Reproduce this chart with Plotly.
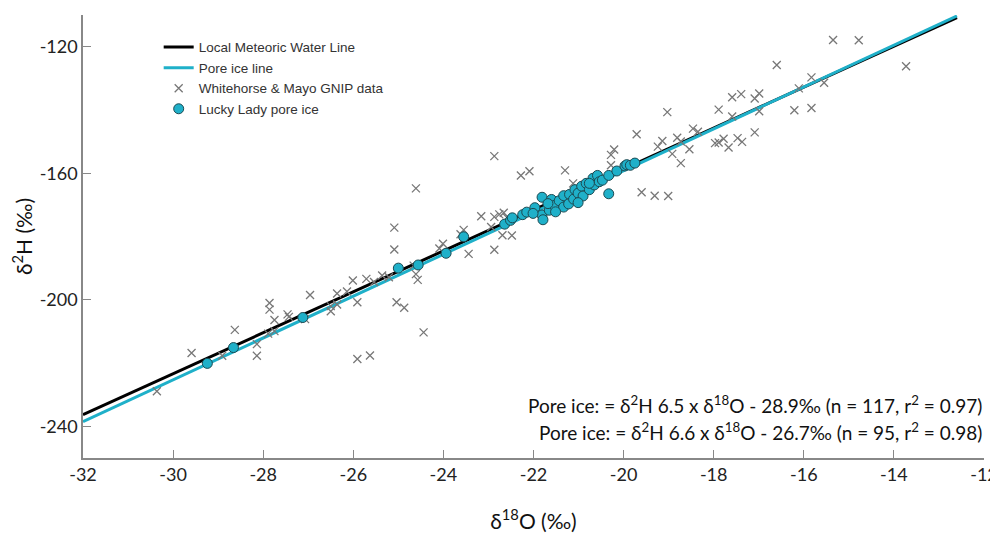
import plotly.graph_objects as go

# Regression lines (end points)
lmwl_x = [-32.0, -12.6]
lmwl_y = [-236.3, -110.8]
pore_x = [-32.0, -12.6]
pore_y = [-238.5, -110.3]

# Whitehorse & Mayo GNIP data (d18O, d2H)
gnip_x = [-30.36, -29.59, -28.63, -28.91, -28.14, -28.14, -27.86, -27.86, -27.75, -27.89,
          -27.75, -27.46, -27.43, -26.96, -27.07, -26.50, -26.50, -26.36, -26.36, -26.14,
          -26.01, -25.91, -25.91, -25.63, -25.71, -25.54, -25.36, -25.21, -25.04,
          -25.09, -25.09, -24.87, -24.44, -24.57, -24.61, -24.66, -24.61, -24.01, -24.09,
          -23.55, -23.62, -23.44, -23.16, -22.87, -22.76, -22.66, -22.59, -22.94, -22.69,
          -22.48, -22.87, -22.87, -22.28, -22.09, -21.30, -21.12,
          -15.35, -14.78, -13.73, -16.60, -15.83, -16.11, -15.55, -16.21, -15.83, -17.59,
          -17.39, -17.09, -16.99, -16.99, -17.89, -17.59, -19.03, -19.71, -18.46, -18.35,
          -19.14, -19.24, -18.81, -18.73, -18.92, -18.73, -18.54, -17.97, -17.78, -17.67,
          -17.47, -17.37, -17.09, -17.89, -20.28, -20.21, -20.28, -19.60, -19.31, -19.01]
gnip_y = [-228.9, -216.8, -209.5, -217.7, -217.7, -214.0, -201.0, -203.1, -206.4, -210.7,
          -209.9, -204.6, -205.4, -198.5, -206.1, -202.0, -203.6, -201.5, -198.0, -197.4,
          -193.9, -200.8, -218.7, -217.6, -193.4, -194.4, -192.3, -192.9, -200.8,
          -177.2, -184.1, -202.5, -210.3, -193.7, -191.9, -189.2, -164.8, -182.3, -183.8,
          -177.9, -179.3, -185.5, -173.6, -173.8, -173.0, -172.5, -174.0, -177.0, -179.6,
          -179.7, -184.2, -154.6, -160.7, -159.4, -159.1, -163.2,
          -117.9, -118.0, -126.2, -125.8, -129.7, -133.2, -131.4, -140.1, -139.4, -136.0,
          -135.0, -136.4, -134.8, -140.4, -139.9, -142.1, -140.7, -147.7, -145.9, -146.9,
          -149.8, -151.6, -148.8, -150.0, -153.9, -156.8, -152.4, -150.5, -149.1, -151.9,
          -148.9, -150.1, -147.1, -150.3, -154.2, -152.5, -157.5, -166.0, -167.1, -167.2]

# Lucky Lady pore ice (d18O, d2H)
ice_x = [-29.24, -28.66, -27.12, -25.00, -24.56, -23.94, -23.55, -22.64, -22.51, -22.24,
         -22.47, -22.15, -21.97, -21.81, -21.81, -21.79, -21.65, -21.60, -21.54, -21.43,
         -21.33, -21.33, -21.20, -21.22, -21.11, -21.08, -21.01, -20.93, -20.90, -20.83,
         -20.76, -20.68, -20.65, -20.58, -20.54, -20.47, -20.33, -20.15, -19.97, -19.93,
         -20.33, -21.51, -21.68, -22.01, -21.01, -20.76, -19.85, -19.75]
ice_y = [-220.1, -215.1, -205.6, -190.0, -189.0, -185.3, -180.1, -176.1, -174.9, -173.1,
         -174.1, -172.3, -170.9, -167.6, -173.2, -174.7, -171.7, -168.3, -170.2, -168.7,
         -170.7, -167.1, -166.7, -169.7, -168.2, -165.2, -166.3, -164.1, -167.2, -163.2,
         -165.2, -161.6, -163.7, -160.7, -162.7, -162.2, -160.7, -159.3, -157.7, -157.3,
         -166.5, -172.2, -169.6, -172.7, -169.3, -163.2, -157.5, -156.8]

x_ticks = [-32, -30, -28, -26, -24, -22, -20, -18, -16, -14, -12]
y_ticks = [-240, -200, -160, -120]

eq_lines = [
    "Pore ice: = δ<sup>2</sup>H 6.5 x δ<sup>18</sup>O - 28.9‰ (n = 117, r<sup>2</sup> = 0.97)",
    "Pore ice: = δ<sup>2</sup>H 6.6 x δ<sup>18</sup>O - 26.7‰ (n = 95, r<sup>2</sup> = 0.98)",
]

CYAN = "#1fb0c9"
FONT = "Lato, Open Sans, sans-serif"
tick_font = dict(family=FONT, size=18, color="#222")

fig = go.Figure()
fig.add_trace(go.Scatter(x=lmwl_x, y=lmwl_y, mode="lines", name="Local Meteoric Water Line",
                         line=dict(color="black", width=3)))
fig.add_trace(go.Scatter(x=pore_x, y=pore_y, mode="lines", name="Pore ice line",
                         line=dict(color=CYAN, width=3)))
fig.add_trace(go.Scatter(x=gnip_x, y=gnip_y, mode="markers", name="Whitehorse & Mayo GNIP data",
                         marker=dict(symbol="x-thin", size=8, color="#777",
                                     line=dict(width=1.3, color="#777"))))
fig.add_trace(go.Scatter(x=ice_x, y=ice_y, mode="markers", name="Lucky Lady pore ice",
                         marker=dict(symbol="circle", size=10, color=CYAN,
                                     line=dict(width=1, color="#1c4a52"))))

for i, t in enumerate(eq_lines):
    fig.add_annotation(text=t, xref="paper", yref="paper", x=1.0, y=[0.12, 0.059][i],
                       xanchor="right", yanchor="middle", showarrow=False,
                       font=dict(family=FONT, size=19, color="#111"))

fig.update_xaxes(range=[-32, -12], tickvals=x_ticks, ticktext=[str(v) for v in x_ticks],
                 ticks="inside", ticklen=8, tickcolor="#888", tickwidth=1.2,
                 showline=True, linecolor="#888", linewidth=1.5, showgrid=False, zeroline=False,
                 tickfont=tick_font, ticklabeloverflow="allow", automargin=False,
                 title=dict(text="δ<sup>18</sup>O (‰)", standoff=30,
                            font=dict(family=FONT, size=21, color="#111")))
fig.update_yaxes(range=[-250, -110], tickvals=y_ticks, ticktext=[str(v) for v in y_ticks],
                 ticks="inside", ticklen=8, tickcolor="#888", tickwidth=1.2,
                 showline=True, linecolor="#888", linewidth=1.5, showgrid=False, zeroline=False,
                 tickfont=tick_font, automargin=False,
                 title=dict(text="δ<sup>2</sup>H (‰)", standoff=4,
                            font=dict(family=FONT, size=21, color="#111")))

fig.update_layout(width=990, height=533, margin=dict(l=75, r=14, t=7, b=83),
                  plot_bgcolor="white", paper_bgcolor="white",
                  legend=dict(x=0.084, y=0.962, xanchor="left", yanchor="top",
                              bgcolor="rgba(0,0,0,0)",
                              font=dict(family="Liberation Sans, Arial, sans-serif", size=13.5, color="#333")))

fig.write_html("out.html")
